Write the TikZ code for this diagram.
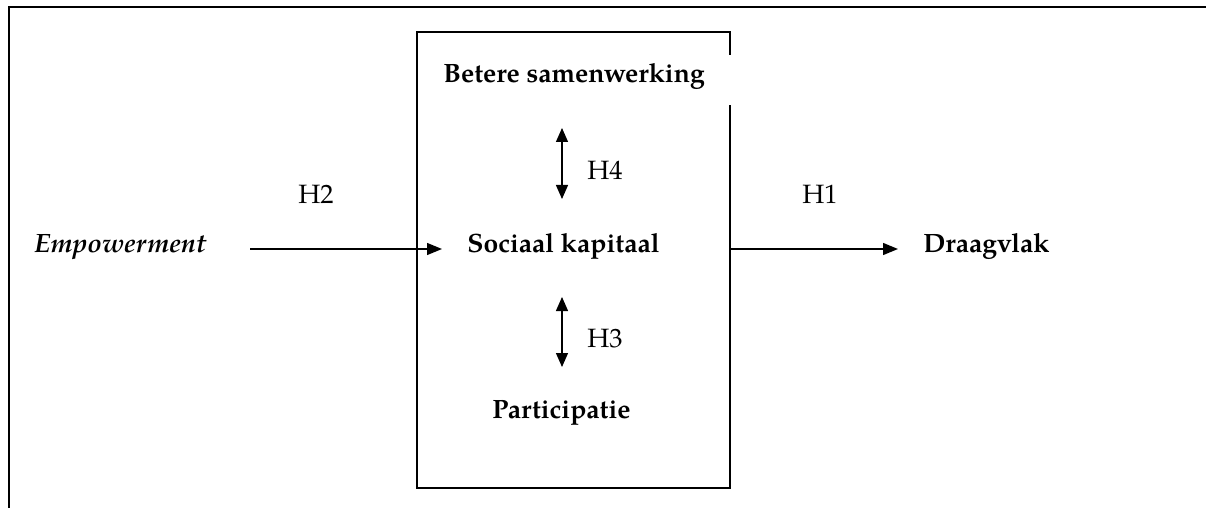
\documentclass[tikz,border=0pt]{standalone}
\usepackage{fontspec}
\setmainfont{TeX Gyre Pagella}
\usetikzlibrary{arrows.meta}
\tikzset{
  lbl/.style={inner sep=0pt, anchor=base west, font=\fontsize{13.25}{15}\selectfont},
  blbl/.style={lbl, font=\fontsize{13.25}{15}\selectfont\bfseries},
  arr/.style={line width=0.65pt, -{Triangle[length=7.5pt,width=6pt]}},
  darr/.style={line width=0.65pt, {Triangle[length=7pt,width=6pt]}-{Triangle[length=7pt,width=6pt]}},
  frame/.style={line width=1pt},
  boxline/.style={line width=0.7pt}
}
\begin{document}
\begin{tikzpicture}[x=0.5pt,y=-0.5pt]
\useasboundingbox (0,0) rectangle (1206,508);
% outer frame
\draw[frame] (9,508) -- (9,7) -- (1206,7);
% inner box with gap at right edge
\draw[boxline] (730,55) -- (730,32) -- (417,32) -- (417,488) -- (730,488) -- (730,105);
% texts
\node[blbl] (bs) at (443,83) {Betere samenwerking};
\node[lbl] (h4) at (587,180) {H4};
\node[lbl] (h2) at (298,204) {H2};
\node[lbl, font=\fontsize{13.25}{15}\selectfont\bfseries\itshape] (emp) at (34,252) {Empowerment};
\node[blbl] (sk) at (467,252) {Sociaal kapitaal};
\node[lbl] (h1) at (802,204) {H1};
\node[blbl] (dv) at (923,252) {Draagvlak};
\node[lbl] (h3) at (587,347) {H3};
\node[blbl] (pa) at (492,418) {Participatie};
% connector endpoints
\coordinate (a1s) at (250,249);
\coordinate (a1e) at (442,249);
\coordinate (a2s) at (730,249);
\coordinate (a2e) at (898,249);
\coordinate (v1s) at (562,128);
\coordinate (v1e) at (562,199);
\coordinate (v2s) at (562,297);
\coordinate (v2e) at (562,367);
\draw[arr] (a1s) -- (a1e);
\draw[arr] (a2s) -- (a2e);
\draw[darr] (v1s) -- (v1e);
\draw[darr] (v2s) -- (v2e);
\end{tikzpicture}
\end{document}
